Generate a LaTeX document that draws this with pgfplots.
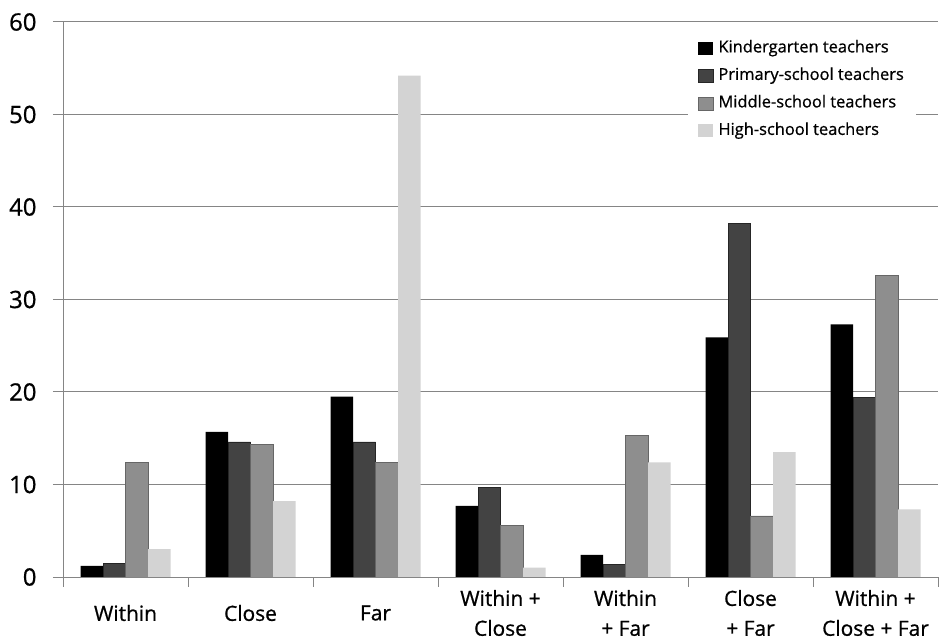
\documentclass[border=0pt]{standalone}
\usepackage{fontspec}
\setmainfont{Open Sans}[FakeBold=0.8]
\usepackage{pgfplots}
\pgfplotsset{compat=1.18}
\definecolor{cK}{HTML}{000000}
\definecolor{cP}{HTML}{434343}
\definecolor{cM}{HTML}{8E8E8E}
\definecolor{cH}{HTML}{D3D3D3}
\definecolor{axgray}{HTML}{858585}
\begin{document}
\begin{tikzpicture}
\path[use as bounding box] (0bp,0bp) rectangle (949bp,639bp);
\begin{axis}[
  at={(63bp,62bp)}, anchor=south west,
  scale only axis, width=875bp, height=555bp,
  ybar=0pt, bar width=22.5bp,
  xmin=-0.5, xmax=6.5, ymin=0, ymax=60,
  axis x line=bottom, axis y line=left,
  axis line style={axgray, line width=1bp, -},
  ytick={0,10,...,60},
  ymajorgrids, grid style={axgray, line width=1bp},
  tick align=outside, major tick length=10bp,
  tick style={axgray, line width=1bp},
  xtick={-0.5,0.5,...,6.5},
  xticklabels={,,,,,,,,},
  extra x ticks={0,1,2,3,4,5,6},
  extra x tick labels={Within, Close, Far, {Within +\\Close}, {Within\\+ Far}, {Close\\+ Far}, {Within +\\Close + Far}},
  extra x tick style={major tick length=0pt, tick style={draw=none}},
  xticklabel style={font=\fontsize{21}{30}\selectfont, align=center, anchor=center, yshift=-36bp},
  yticklabel style={font=\fontsize{24}{24}\selectfont, xshift=-13bp},
  /pgf/number format/assume math mode=true,
  legend style={at={(0.714,0.978)}, anchor=north west, draw=none, fill=white,
    font=\fontsize{16.5}{16.5}\selectfont, inner xsep=10bp, inner ysep=4bp,
    nodes={inner sep=2bp, text height=12bp, text depth=4bp}, row sep=7.5bp},
  legend cell align=left,
  legend image code/.code={\fill[#1] (0bp,-6.5bp) rectangle (15bp,6.5bp); \path (18bp,0bp);},
]
\addplot[fill=cK, draw=none] coordinates {(0,1.2) (1,15.7) (2,19.5) (3,7.7) (4,2.4) (5,25.9) (6,27.3)};
\addplot[fill=cP, draw=black!85, line width=0.5bp] coordinates {(0,1.5) (1,14.6) (2,14.6) (3,9.7) (4,1.4) (5,38.2) (6,19.4)};
\addplot[fill=cM, draw=black!60, line width=0.5bp] coordinates {(0,12.4) (1,14.3) (2,12.4) (3,5.6) (4,15.3) (5,6.6) (6,32.6)};
\addplot[fill=cH, draw=none] coordinates {(0,3.0) (1,8.2) (2,54.2) (3,1.0) (4,12.4) (5,13.5) (6,7.3)};
\legend{Kindergarten teachers, Primary-school teachers, Middle-school teachers, High-school teachers}
\end{axis}
\end{tikzpicture}
\end{document}
